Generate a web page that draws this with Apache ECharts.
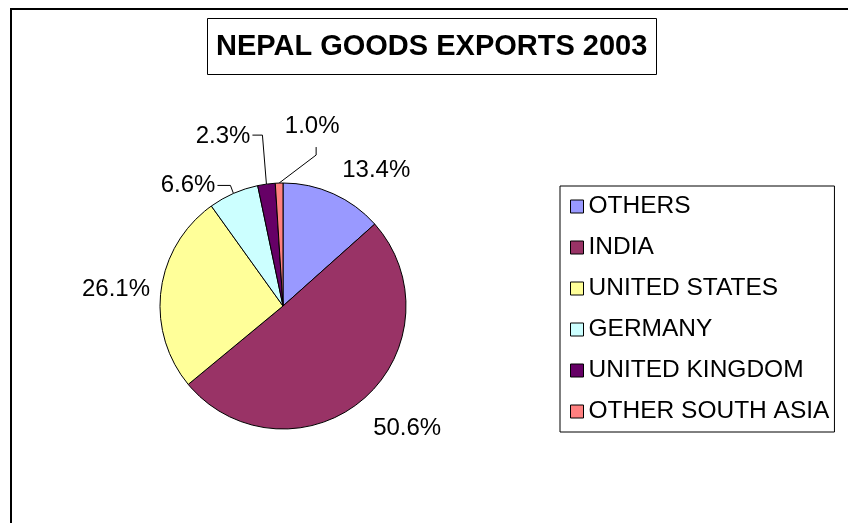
<!DOCTYPE html>
<html>
<head>
<meta charset="utf-8">
<title>Nepal Goods Exports 2003</title>
<script src="https://cdn.jsdelivr.net/npm/echarts@6/dist/echarts.min.js"></script>
<style>
  html, body { margin: 0; padding: 0; background: #fff; }
  #chart { width: 848px; height: 523px; }
</style>
</head>
<body>
<div id="chart"></div>
<script>
// Export destinations and their share of total goods exports (%)
const categories = ['OTHERS', 'INDIA', 'UNITED STATES', 'GERMANY', 'UNITED KINGDOM', 'OTHER SOUTH ASIA'];
const shares = [13.4, 50.6, 26.1, 6.6, 2.3, 1.0];
const sliceColors = ['#9999FF', '#993366', '#FFFF99', '#CCFFFF', '#660066', '#FF8080'];

const FONT = "'Liberation Sans', Arial, sans-serif";

// Label placement relative to the point where each slice's mid-angle meets the rim.
// Small slices get an elbowed leader line.
const labelGuides = [
  { label: [43, -23], align: 'center' },
  { label: [44, 29], align: 'center' },
  { label: [-45, -1], align: 'center' },
  { line: [[-3, -8], [-16, -8]], label: [-18, -8], align: 'right' },
  { line: [[-4, -49], [-14, -49]], label: [-16, -48], align: 'right' },
  { line: [[37, -28], [37, -36]], label: [33, -57], align: 'center' }
];

const chart = echarts.init(document.getElementById('chart'), null, { renderer: 'canvas' });

function rimPoint(idx) {
  const lay = chart.getModel().getSeriesByIndex(0).getData().getItemLayout(idx);
  const mid = (lay.startAngle + lay.endAngle) / 2;
  return [lay.cx + lay.r * Math.cos(mid), lay.cy + lay.r * Math.sin(mid)];
}

const pieData = categories.map((name, i) => ({
  name: name,
  value: shares[i],
  itemStyle: { color: sliceColors[i] },
  labelLine: { show: !!labelGuides[i].line }
}));

chart.setOption({
  animation: false,
  backgroundColor: '#ffffff',
  textStyle: { fontFamily: FONT },
  title: {
    text: 'NEPAL GOODS EXPORTS 2003',
    left: 207,
    top: 18,
    padding: [14, 9, 14, 9],
    borderColor: '#000',
    borderWidth: 1,
    textStyle: { fontFamily: FONT, fontSize: 29, fontWeight: 'bold', color: '#000', lineHeight: 29 }
  },
  legend: {
    orient: 'vertical',
    left: 560,
    top: 186,
    padding: [8, 5, 8, 10],
    borderColor: '#000',
    borderWidth: 1,
    backgroundColor: '#fff',
    itemWidth: 13,
    itemHeight: 13,
    itemGap: 16,
    icon: 'rect',
    selectedMode: false,
    data: categories,
    itemStyle: { borderColor: '#000', borderWidth: 1 },
    textStyle: { fontFamily: FONT, fontSize: 24.5, color: '#000', lineHeight: 24 }
  },
  graphic: [{
    type: 'rect',
    silent: true,
    shape: { x: 11, y: 9, width: 900, height: 600 },
    style: { fill: 'none', stroke: '#000', lineWidth: 2 }
  }],
  series: [{
    type: 'pie',
    center: [283, 306],
    radius: 123,
    startAngle: 90,
    clockwise: true,
    avoidLabelOverlap: false,
    silent: true,
    emphasis: { disabled: true },
    itemStyle: { borderColor: '#000', borderWidth: 1 },
    label: {
      show: true,
      position: 'outside',
      fontFamily: FONT,
      fontSize: 24,
      color: '#000',
      formatter: p => p.value.toFixed(1) + '%'
    },
    labelLine: {
      show: false,
      length: 10,
      length2: 10,
      lineStyle: { color: '#000', width: 1 }
    },
    labelLayout: function (params) {
      const i = params.dataIndex;
      const g = labelGuides[i];
      const e = rimPoint(i);
      const out = {
        x: e[0] + g.label[0],
        y: e[1] + g.label[1],
        align: g.align,
        verticalAlign: 'middle'
      };
      if (g.line) {
        out.labelLinePoints = [e].concat(g.line.map(d => [e[0] + d[0], e[1] + d[1]]));
      }
      return out;
    },
    data: pieData
  }]
});
</script>
</body>
</html>
